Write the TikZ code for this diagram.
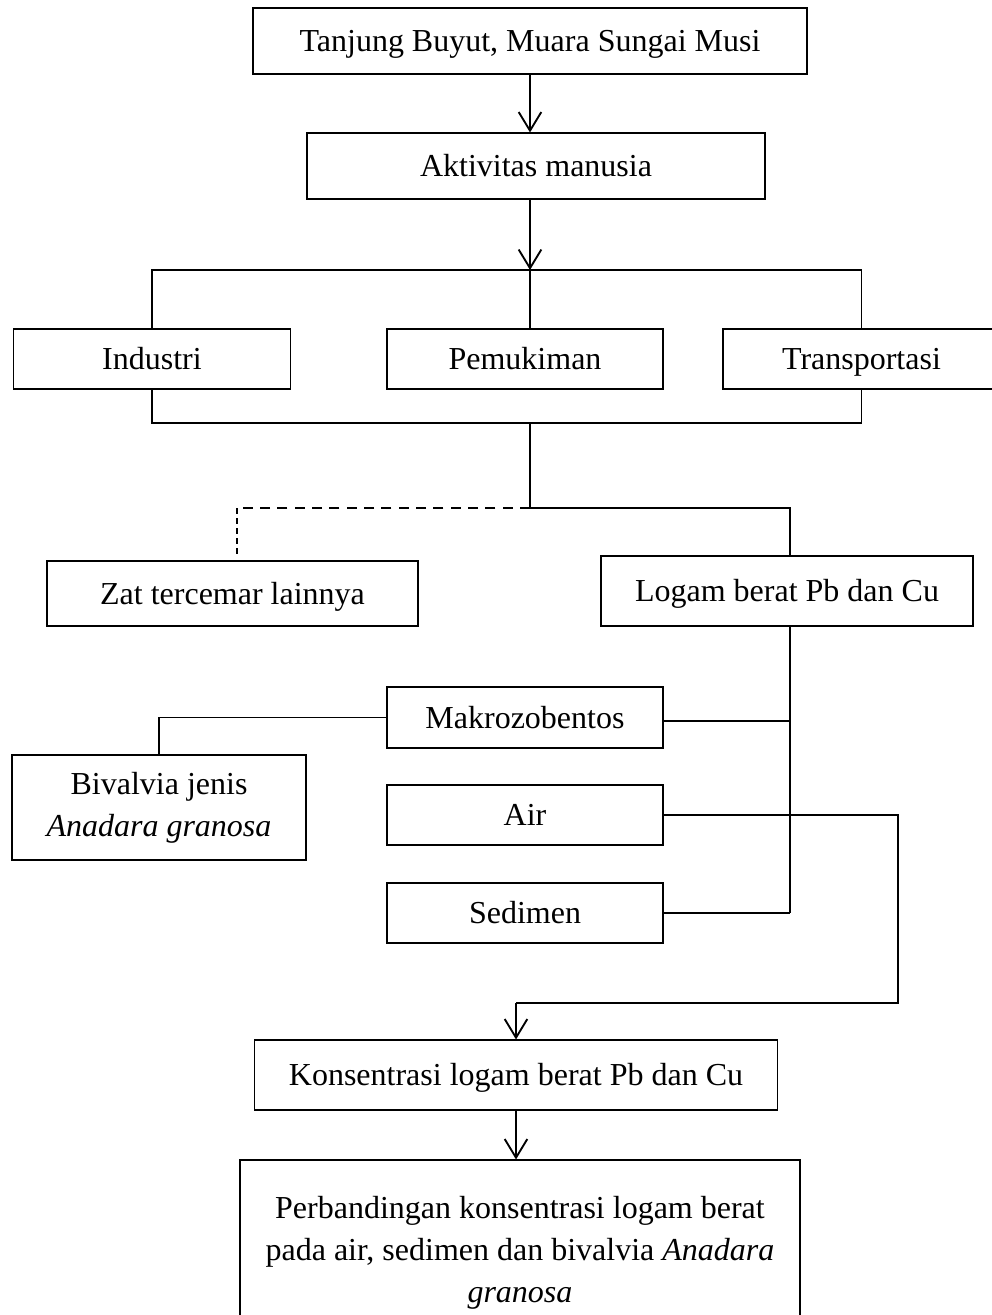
\documentclass[tikz,border=0pt]{standalone}
\usepackage{fontspec}
\setmainfont{Liberation Serif}
\usetikzlibrary{arrows.meta,calc}
\begin{document}
\begin{tikzpicture}[x=0.75pt,y=-0.75pt,
  boxst/.style={draw,line width=0.8pt,rectangle,inner sep=0pt,align=center,
    font=\fontsize{24}{31.5}\selectfont},
  one/.style={boxst,text height=19pt,text depth=3pt},
  conn/.style={line width=0.8pt},
  arr/.style={line width=1.4pt,-{Straight Barb[length=14pt,width=17pt,line width=1.4pt]}},
  dashh/.style={line width=1.5pt,dash pattern=on 7.5pt off 5.5pt},
  dashv/.style={line width=0.8pt,dash pattern=on 4.5pt off 3pt}]
\useasboundingbox (0,0) rectangle (992,1315);
\node[one,minimum width=415.5pt,minimum height=49.5pt] (top) at (530,41) {Tanjung Buyut, Muara Sungai Musi};
\node[one,minimum width=343.5pt,minimum height=49.5pt] (akt) at (536,166) {Aktivitas manusia};
\node[one,minimum width=207.75pt,minimum height=45pt] (ind) at (152,359) {Industri};
\node[one,minimum width=207pt,minimum height=45pt] (pem) at (525,359) {Pemukiman};
\node[one,minimum width=207.75pt,minimum height=45pt] (tra) at (861.5,359) {Transportasi};
\node[one,minimum width=278.25pt,minimum height=48.75pt] (zat) at (232.5,593.5) {Zat tercemar lainnya};
\node[one,minimum width=279pt,minimum height=52.5pt] (log) at (787,591) {Logam berat Pb dan Cu};
\node[one,minimum width=207pt,minimum height=45.75pt] (mak) at (525,717.5) {Makrozobentos};
\node[boxst,minimum width=220.5pt,minimum height=78.75pt] (biv) at (159,807.5) {Bivalvia jenis\\\textit{Anadara granosa}};
\node[one,minimum width=207pt,minimum height=45pt] (air) at (525,815) {Air};
\node[one,minimum width=207pt,minimum height=45pt] (sed) at (525,913) {Sedimen};
\node[one,minimum width=392.25pt,minimum height=52.5pt] (kon) at (516,1075) {Konsentrasi logam berat Pb dan Cu};
\node[boxst,minimum width=420pt,minimum height=139.5pt] (per) at (520,1253) {Perbandingan konsentrasi logam berat\\pada air, sedimen dan bivalvia \textit{Anadara}\\\textit{granosa}};
\coordinate (hub1) at (530,270);
\coordinate (hub2) at (530,423);
\coordinate (hub3) at (530,508);
\coordinate (sp) at (790,913);
\coordinate (mj) at (790,721);
\coordinate (c1) at (898,1003);
% top arrows
\draw[arr] (top.south) -- (top.south |- akt.north);
\draw[arr] (top.south |- akt.south) -- (hub1);
% branch to three boxes
\draw[conn] (ind.north) -- (ind.north |- hub1) -| (tra.north);
\draw[conn] (hub1) -- (pem.north -| hub1);
% join below
\draw[conn] (ind.south) -- (ind.south |- hub2) -| (tra.south);
\draw[conn] (hub2) -- (hub3);
% split to pollutants
\draw[dashh] (hub3) -- ($(zat.north |- hub3)+(4.5,0)$);
\draw[dashv] ($(zat.north |- hub3)+(4.5,0)$) -- ($(zat.north)+(4.5,-5)$);
\draw[conn] (hub3) -| (log.north -| sp);
% logam to compartments
\draw[conn] (log.south -| sp) -- (sp);
\draw[conn] (mak.east |- mj) -- (mj);
\draw[conn] (sed.east) -- (sp);
\draw[conn] (mak.west) -| (biv.north);
% air to concentration
\draw[conn] (air.east) -| (c1) -- (c1 -| kon.north);
\draw[arr] (c1 -| kon.north) -- (kon.north);
\draw[arr] (kon.south) -- (kon.south |- per.north);
\end{tikzpicture}
\end{document}
